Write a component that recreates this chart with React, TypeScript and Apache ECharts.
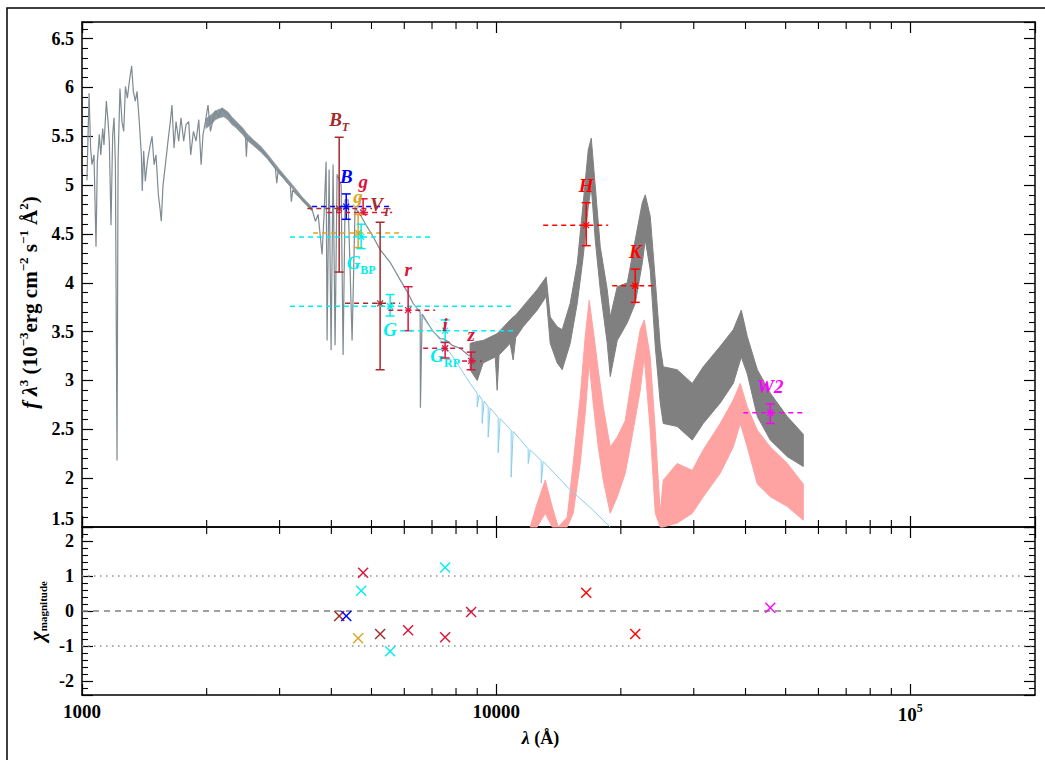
import React, { useEffect, useRef } from 'react';
import * as echarts from 'echarts';

const SERIF = '"Liberation Serif", "Times New Roman", serif';

// Total model spectrum, UV/optical part (wavelength Å, f·λ^3)
const uvSpectrum: [number, number][] = [
  [1028, 5.05], [1040, 5.94], [1049, 5.38], [1057, 5.21], [1069, 5.31], [1081, 4.37], [1089, 5.24],
  [1101, 5.52], [1110, 5.31], [1122, 5.58], [1130, 5.41], [1145, 5.86], [1156, 5.65], [1164, 5.45],
  [1175, 4.59], [1186, 5.52], [1195, 5.69], [1204, 5.21], [1215, 2.18], [1222, 5.24], [1235, 5.99],
  [1249, 5.65], [1261, 5.55], [1273, 6.01], [1287, 5.89], [1301, 6.06], [1318, 6.22], [1330, 5.96],
  [1345, 5.86], [1358, 5.96], [1375, 5.65], [1391, 5.31], [1398, 4.94], [1409, 5.35], [1422, 5.04],
  [1438, 5.24], [1457, 5.38], [1476, 5.50], [1493, 5.21], [1509, 5.31], [1529, 4.90], [1543, 4.76],
  [1554, 4.63], [1569, 5.00], [1590, 5.21], [1613, 5.45], [1634, 5.65], [1649, 5.82], [1668, 5.38],
  [1687, 5.65], [1712, 5.45], [1734, 5.69], [1760, 5.45], [1783, 5.62], [1810, 5.65], [1830, 5.31],
  [1858, 5.55], [1885, 5.45], [1914, 5.67], [1939, 5.21], [1960, 5.52], [1986, 5.65], [2015, 5.82],
  [2042, 5.55], [2068, 5.65], [2099, 5.76], [2138, 5.70], [2178, 5.79], [2219, 5.74], [2261, 5.72],
  [2303, 5.65], [2346, 5.62], [2390, 5.60], [2435, 5.57], [2480, 5.52], [2494, 5.29], [2508, 5.48],
  [2550, 5.48], [2598, 5.43], [2646, 5.40], [2721, 5.35], [2798, 5.29], [2850, 5.24], [2931, 5.17],
  [2953, 5.02], [2975, 5.14], [3042, 5.11], [3110, 5.04], [3185, 4.99], [3203, 4.83], [3227, 4.95],
  [3305, 4.90], [3400, 4.85], [3495, 4.80], [3594, 4.75], [3661, 4.63], [3716, 4.70], [3799, 4.29],
  [3841, 4.70], [3885, 5.24], [3906, 3.41], [3950, 5.16], [3994, 3.31], [4039, 5.21], [4084, 3.36],
  [4130, 5.11], [4223, 5.00], [4270, 3.26], [4318, 4.85], [4390, 4.85], [4489, 3.41], [4564, 4.77],
  [4694, 4.70], [4853, 4.59], [5018, 4.49], [5246, 4.34], [5546, 4.21], [5865, 4.03], [6095, 3.91],
  [6301, 3.79], [6553, 3.70], [6563, 2.72], [6626, 3.68], [7043, 3.50], [7323, 3.43], [7530, 3.42],
  [7830, 3.36], [8185, 3.33], [8558, 3.26], [8651, 3.25],
];

// Noise thickness of the UV continuum: [wavelength, upper, lower]
const uvNoise: [number, number, number][] = [
  [1990, 5.68, 5.58], [2050, 5.72, 5.62], [2100, 5.76, 5.67], [2150, 5.78, 5.69], [2200, 5.78, 5.70],
  [2250, 5.75, 5.67], [2300, 5.70, 5.62], [2350, 5.66, 5.59], [2400, 5.62, 5.55], [2450, 5.58, 5.51],
  [2500, 5.53, 5.46], [2600, 5.46, 5.40], [2700, 5.40, 5.34], [2800, 5.32, 5.27], [2900, 5.24, 5.19],
  [3000, 5.16, 5.11], [3200, 5.02, 4.98], [3400, 4.88, 4.84], [3600, 4.77, 4.73],
];

// Total model spectrum, noisy IR part: [wavelength, upper envelope, lower envelope]
const irSpectrum: [number, number, number][] = [
  [8651, 3.38, 3.11], [9000, 3.40, 3.00], [9303, 3.41, 3.18], [9950, 3.47, 3.24], [10056, 3.48, 2.90],
  [10160, 3.50, 3.26], [10809, 3.62, 3.38], [10991, 3.65, 3.21], [11150, 3.67, 3.44], [11620, 3.76, 3.55],
  [12561, 3.93, 3.72], [13209, 4.06, 3.86], [13505, 3.65, 3.38], [14041, 3.55, 3.18], [14437, 3.52, 3.11],
  [15093, 3.79, 3.38], [15697, 4.20, 3.79], [16226, 4.82, 4.27], [16685, 5.36, 4.78], [16967, 5.48, 4.99],
  [17347, 4.99, 4.44], [17836, 4.37, 3.93], [18544, 3.93, 3.38], [18858, 3.65, 3.04], [19606, 3.96, 3.41],
  [20726, 4.00, 3.59], [21667, 4.44, 3.79], [22531, 4.82, 4.20], [22909, 4.90, 4.44], [23554, 4.68, 4.13],
  [24219, 4.03, 3.35], [24898, 3.35, 2.77], [25319, 3.14, 2.56], [27358, 3.11, 2.53], [29748, 2.97, 2.39],
  [31623, 3.14, 2.56], [34754, 3.35, 2.77], [37370, 3.52, 2.97], [39069, 3.72, 3.24], [40394, 3.45, 3.07],
  [42718, 3.11, 2.63], [45907, 2.87, 2.39], [50465, 2.63, 2.22], [55147, 2.45, 2.12],
];

// Companion model (pink): [wavelength, upper, lower] (lower clipped at axis)
const companionSpectrum: [number, number, number][] = [
  [12083, 1.50, 1.50], [12561, 1.74, 1.50], [13136, 1.98, 1.64], [13652, 1.71, 1.50], [14122, 1.50, 1.50],
  [14844, 1.60, 1.50], [15346, 2.15, 1.64], [15957, 2.83, 2.15], [16406, 3.45, 2.66], [16773, 3.82, 3.18],
  [17150, 3.52, 2.77], [17639, 3.11, 2.32], [18138, 2.73, 1.98], [18858, 2.32, 1.64], [19606, 2.42, 1.81],
  [20497, 2.59, 2.05], [21424, 3.11, 2.49], [22277, 3.52, 2.90], [22782, 3.62, 3.24], [23554, 3.24, 2.49],
  [24219, 2.49, 1.64], [24898, 1.64, 1.50], [25319, 1.98, 1.50], [27358, 2.15, 1.54], [29748, 2.08, 1.64],
  [31623, 2.29, 1.81], [34754, 2.56, 2.05], [37370, 2.80, 2.32], [38855, 2.97, 2.56], [40394, 2.73, 2.32],
  [42718, 2.49, 1.94], [45907, 2.32, 1.81], [50465, 2.15, 1.71], [55147, 1.94, 1.57],
];

// Stellar photosphere (sky blue) where it departs from the total model
const photosphere: [number, number][] = [
  [6301, 3.79], [7043, 3.50], [7447, 3.38], [7961, 3.21], [8651, 2.97], [8998, 2.87], [8998, 2.73],
  [9098, 2.85], [9252, 2.80], [9252, 2.56], [9354, 2.79], [9565, 2.73], [9565, 2.42], [9671, 2.72],
  [10112, 2.62], [10112, 2.26], [10225, 2.61], [10870, 2.49], [10870, 2.01], [10991, 2.48], [11949, 2.30],
  [11949, 2.15], [12083, 2.29], [12846, 2.18], [12846, 1.95], [12989, 2.17], [15093, 1.88], [16866, 1.70],
  [18858, 1.50],
];

// Photometry
const bandLabel = ['{m|B}{s|T}', '{m|B}', '{m|g}', '{m|g}', '{m|G}{u|BP}', '{m|V}{s|T}', '{m|G}', '{m|r}',
  '{m|G}{u|RP}', '{m|i}', '{m|z}', '{m|H}', '{m|K}', '{m|W2}'];
const bandLambda = [4178, 4345, 4773, 4642, 4721, 5246, 5546, 6130, 7530, 7530, 8700, 16496, 21667, 45907];
const bandFlux = [4.76, 4.78, 4.72, 4.51, 4.47, 3.79, 3.76, 3.72, 3.51, 3.33, 3.20, 4.59, 3.97, 2.67];
const bandErrHigh = [5.49, 4.91, 4.86, 4.70, 4.60, 4.62, 3.88, 3.96, 3.62, 3.39, 3.29, 4.82, 4.14, 2.76];
const bandErrLow = [4.11, 4.65, 4.70, 4.36, 4.35, 3.11, 3.66, 3.51, 3.39, 3.23, 3.11, 4.38, 3.80, 2.56];
const bandWidthLow = [3500, 3594, 3907, 3614, 3179, 4318, 3179, 5491, 5865, 6664, 8270, 12989, 19067, 39505];
const bandWidthHigh = [5018, 5546, 5610, 5865, 6926, 5865, 11114, 7122, 11114, 8324, 9229, 18645, 23947, 55147];
const bandResidual = [-0.14, -0.14, 1.09, -0.78, 0.58, -0.66, -1.15, -0.55, 1.24, -0.75, -0.03, 0.52, -0.66, 0.09];
const bandColor = ['#a52a2a', '#0000ff', '#dc143c', '#daa520', '#00eeee', '#a52a2a', '#00eeee', '#dc143c',
  '#00eeee', '#dc143c', '#dc143c', '#ff0000', '#ff0000', '#ff00ff'];
const bandLabelSide = ['above', 'above', 'above', 'above', 'below', 'above', 'below', 'above', 'below',
  'above', 'above', 'above', 'above', 'above'];

const xMinorTicks = [2000, 3000, 4000, 5000, 6000, 7000, 8000, 9000, 20000, 30000, 40000, 50000, 60000, 70000, 80000, 90000];
const residualLevels = [0, 1, -1];

const BLACK = '#000';
const UV_GREY = '#7f8a91';

function bandRenderer(rows: [number, number, number][], color: string, edge: number) {
  return (params: any, api: any) => {
    if (params.dataIndex !== 0) return null;
    const pts: number[][] = [];
    for (let i = 0; i < rows.length; i++) pts.push(api.coord([rows[i][0], rows[i][1]]));
    for (let i = rows.length - 1; i >= 0; i--) pts.push(api.coord([rows[i][0], rows[i][2]]));
    return { type: 'polygon', shape: { points: pts }, style: { fill: color, stroke: color, lineWidth: edge } };
  };
}

function labelRich(c: string) {
  const base = { fill: c, fontFamily: SERIF, fontWeight: 'bold' };
  return {
    m: { ...base, fontStyle: 'italic', fontSize: 19, lineHeight: 22, verticalAlign: 'top' },
    s: { ...base, fontStyle: 'italic', fontSize: 12, lineHeight: 12, padding: [11, 0, 0, 0], verticalAlign: 'top' },
    u: { ...base, fontStyle: 'normal', fontSize: 12, lineHeight: 12, padding: [11, 0, 0, 0], verticalAlign: 'top' },
  };
}

function photometryRender(params: any, api: any) {
  const i = params.dataIndex;
  const c = bandColor[i];
  const p = api.coord([bandLambda[i], bandFlux[i]]);
  const top = api.coord([bandLambda[i], bandErrHigh[i]]);
  const bot = api.coord([bandLambda[i], bandErrLow[i]]);
  const wl = api.coord([bandWidthLow[i], bandFlux[i]]);
  const wh = api.coord([bandWidthHigh[i], bandFlux[i]]);
  const st = { stroke: c, lineWidth: 1.5 };
  const cap = 4.5;
  const a = 3;
  const above = bandLabelSide[i] === 'above';
  return {
    type: 'group',
    children: [
      { type: 'line', shape: { x1: wl[0], y1: p[1], x2: wh[0], y2: p[1] }, style: { stroke: c, lineWidth: 1.5, lineDash: [5, 4] } },
      { type: 'line', shape: { x1: p[0], y1: top[1], x2: p[0], y2: bot[1] }, style: st },
      { type: 'line', shape: { x1: p[0] - cap, y1: top[1], x2: p[0] + cap, y2: top[1] }, style: st },
      { type: 'line', shape: { x1: p[0] - cap, y1: bot[1], x2: p[0] + cap, y2: bot[1] }, style: st },
      { type: 'line', shape: { x1: p[0] - a, y1: p[1], x2: p[0] + a, y2: p[1] }, style: { stroke: c, lineWidth: 1.2 } },
      { type: 'line', shape: { x1: p[0] - a, y1: p[1] - a, x2: p[0] + a, y2: p[1] + a }, style: { stroke: c, lineWidth: 1.2 } },
      { type: 'line', shape: { x1: p[0] - a, y1: p[1] + a, x2: p[0] + a, y2: p[1] - a }, style: { stroke: c, lineWidth: 1.2 } },
      {
        type: 'text',
        x: p[0],
        y: above ? top[1] - 5 : bot[1] + 4,
        style: {
          text: bandLabel[i],
          rich: labelRich(c),
          fill: c,
          fontFamily: SERIF,
          fontWeight: 'bold',
          fontStyle: 'italic',
          fontSize: 19,
          align: 'center',
          verticalAlign: above ? 'bottom' : 'top',
        },
      },
    ],
  };
}

function residualRender(params: any, api: any) {
  const p = api.coord([api.value(0), api.value(1)]);
  const c = bandColor[params.dataIndex];
  const r = 5;
  return {
    type: 'group',
    children: [
      { type: 'line', shape: { x1: p[0] - r, y1: p[1] - r, x2: p[0] + r, y2: p[1] + r }, style: { stroke: c, lineWidth: 1.4 } },
      { type: 'line', shape: { x1: p[0] - r, y1: p[1] + r, x2: p[0] + r, y2: p[1] - r }, style: { stroke: c, lineWidth: 1.4 } },
    ],
  };
}

function minorTickRender(params: any, api: any) {
  const cs = params.coordSys;
  const x = api.coord([api.value(0), api.value(1)])[0];
  const L = 7;
  const st = { stroke: BLACK, lineWidth: 1.1 };
  return {
    type: 'group',
    children: [
      { type: 'line', shape: { x1: x, y1: cs.y, x2: x, y2: cs.y + L }, style: st },
      { type: 'line', shape: { x1: x, y1: cs.y + cs.height, x2: x, y2: cs.y + cs.height - L }, style: st },
    ],
  };
}

const tickFont = { fontFamily: SERIF, fontWeight: 'bold', color: BLACK };

function buildOption() {
  const axisLine = { show: true, onZero: false, lineStyle: { color: BLACK, width: 1.5 } };
  const axisTick = { show: true, inside: true, length: 11, lineStyle: { color: BLACK, width: 1.2 } };
  const xBase: any = {
    type: 'log', logBase: 10, min: 1000, max: 200000,
    axisLine, axisTick, axisLabel: { show: false }, splitLine: { show: false },
  };
  const yMinor = { show: true, splitNumber: 5, length: 6, lineStyle: { color: BLACK, width: 1.1 } };
  const topFormatter = (v: number) => {
    if (Math.abs(v * 2 - Math.round(v * 2)) > 1e-6) return '';
    if (Math.abs(v - 1.5) < 1e-6) return '{lo|1.5}';
    return String(Math.round(v * 2) / 2);
  };
  const botFormatter = (v: number) => {
    if (Math.abs(v - Math.round(v)) > 1e-6) return '';
    return String(Math.round(v));
  };
  const xFormatter = (v: number) => {
    const e = Math.round(Math.log10(v));
    if (Math.abs(v - Math.pow(10, e)) > 1e-6 * v) return '';
    if (e === 3) return '1000';
    if (e === 4) return '10000';
    return '{b|10}{p|' + e + '}';
  };

  return {
    animation: false,
    backgroundColor: '#fff',
    graphic: [
      { type: 'rect', shape: { x: 7, y: 8, width: 1200, height: 1000 }, style: { fill: 'none', stroke: BLACK, lineWidth: 1.5 }, silent: true },
    ],
    grid: [
      { left: 82, top: 22, width: 953, height: 505 },
      { left: 82, top: 527, width: 953, height: 168 },
    ],
    xAxis: [
      { ...xBase, gridIndex: 0, position: 'bottom' },
      { ...xBase, gridIndex: 0, position: 'top' },
      {
        ...xBase, gridIndex: 1, position: 'bottom',
        axisLabel: {
          show: true, margin: 7, fontSize: 19, ...tickFont, formatter: xFormatter, showMaxLabel: false,
          rich: {
            b: { ...tickFont, fontSize: 19, lineHeight: 22, verticalAlign: 'bottom' },
            p: { ...tickFont, fontSize: 12, lineHeight: 12, verticalAlign: 'top' },
          },
        },
        name: '{i|λ}{n| (Å)}',
        nameLocation: 'middle',
        nameGap: 34,
        nameTextStyle: {
          padding: [0, 36, 0, 0],
          rich: {
            i: { ...tickFont, fontStyle: 'italic', fontSize: 18 },
            n: { ...tickFont, fontSize: 18 },
          },
        },
      },
      { ...xBase, gridIndex: 1, position: 'top' },
    ],
    yAxis: [
      {
        type: 'value', gridIndex: 0, position: 'left', min: 1.5, max: 6.67, interval: 0.5,
        axisLine, axisTick, minorTick: yMinor, splitLine: { show: false },
        axisLabel: {
          show: true, margin: 8, fontSize: 18, ...tickFont, formatter: topFormatter, showMaxLabel: false,
          rich: { lo: { ...tickFont, fontSize: 18, padding: [0, 0, 16, 0] } },
        },
        name: '{i|f}{i| λ}{p|3}{n| (10}{p|−3}{n|erg cm}{p|−2}{n| s}{p|−1}{n| Å}{p|2}{n|)}',
        nameLocation: 'middle',
        nameRotate: 90,
        nameGap: 31,
        nameTextStyle: {
          padding: [0, 56, 0, 0],
          rich: {
            i: { ...tickFont, fontStyle: 'italic', fontSize: 22, lineHeight: 26 },
            n: { ...tickFont, fontSize: 21, lineHeight: 26 },
            p: { ...tickFont, fontSize: 13, lineHeight: 14, verticalAlign: 'top' },
          },
        },
      },
      {
        type: 'value', gridIndex: 0, position: 'right', min: 1.5, max: 6.67, interval: 0.5,
        axisLine, axisTick, minorTick: yMinor, splitLine: { show: false }, axisLabel: { show: false },
      },
      {
        type: 'value', gridIndex: 1, position: 'left', min: -2.4, max: 2.4, minInterval: 1, maxInterval: 1,
        axisLine, axisTick, minorTick: yMinor, splitLine: { show: false },
        axisLabel: {
          show: true, margin: 8, fontSize: 18, ...tickFont, formatter: botFormatter,
          showMinLabel: false, showMaxLabel: false,
        },
        name: '{c|χ}{s|magnitude}',
        nameLocation: 'middle',
        nameRotate: 90,
        nameGap: 32,
        nameTextStyle: {
          rich: {
            c: { ...tickFont, fontStyle: 'italic', fontSize: 21, lineHeight: 24 },
            s: { ...tickFont, fontSize: 11, lineHeight: 12, padding: [12, 0, 0, 0], verticalAlign: 'top' },
          },
        },
      },
      {
        type: 'value', gridIndex: 1, position: 'right', min: -2.4, max: 2.4, minInterval: 1, maxInterval: 1,
        axisLine, axisTick, minorTick: yMinor, splitLine: { show: false }, axisLabel: { show: false },
      },
    ],
    series: [
      {
        type: 'custom', name: 'model IR', xAxisIndex: 0, yAxisIndex: 0, z: 1, silent: true,
        data: irSpectrum.map((r) => [r[0], r[1]]),
        renderItem: bandRenderer(irSpectrum, '#808080', 1),
      },
      {
        type: 'custom', name: 'companion', xAxisIndex: 0, yAxisIndex: 0, z: 1, silent: true,
        data: companionSpectrum.map((r) => [r[0], r[1]]),
        renderItem: bandRenderer(companionSpectrum, '#ffa2a2', 1),
      },
      {
        type: 'custom', name: 'UV noise', xAxisIndex: 0, yAxisIndex: 0, z: 1, silent: true,
        data: uvNoise.map((r) => [r[0], r[1]]),
        renderItem: bandRenderer(uvNoise, '#8a959c', 0.6),
      },
      {
        type: 'line', name: 'model UV', xAxisIndex: 0, yAxisIndex: 0, z: 2, silent: true,
        data: uvSpectrum, showSymbol: false, symbol: 'none',
        lineStyle: { color: UV_GREY, width: 1.2 },
      },
      {
        type: 'line', name: 'photosphere', xAxisIndex: 0, yAxisIndex: 0, z: 2, silent: true,
        data: photosphere, showSymbol: false, symbol: 'none',
        lineStyle: { color: '#87ceeb', width: 1 },
      },
      {
        type: 'custom', name: 'photometry', xAxisIndex: 0, yAxisIndex: 0, z: 5, silent: true,
        data: bandLambda.map((l, i) => [l, bandFlux[i]]),
        renderItem: photometryRender,
      },
      {
        type: 'custom', name: 'minor top', xAxisIndex: 0, yAxisIndex: 0, z: 6, silent: true,
        data: xMinorTicks.map((v) => [v, 3]),
        renderItem: minorTickRender,
      },
      ...residualLevels.map((lvl) => ({
        type: 'line', xAxisIndex: 2, yAxisIndex: 2, z: 2, silent: true,
        data: [[1000, lvl], [200000, lvl]], showSymbol: false, symbol: 'none',
        lineStyle: lvl === 0
          ? { color: '#808080', width: 1.3, type: [6, 5] }
          : { color: '#909090', width: 1.6, type: [1.5, 4.5] },
      })),
      {
        type: 'custom', name: 'residuals', xAxisIndex: 2, yAxisIndex: 2, z: 5, silent: true,
        data: bandLambda.map((l, i) => [l, bandResidual[i]]),
        renderItem: residualRender,
      },
      {
        type: 'custom', name: 'minor bottom', xAxisIndex: 2, yAxisIndex: 2, z: 6, silent: true,
        data: xMinorTicks.map((v) => [v, 0]),
        renderItem: minorTickRender,
      },
    ],
  };
}

export default function App() {
  const ref = useRef<HTMLDivElement>(null);
  useEffect(() => {
    const chart = echarts.init(ref.current as HTMLDivElement, null, { renderer: 'svg' });
    chart.setOption(buildOption() as any);
    return () => chart.dispose();
  }, []);
  return (
    <div
      ref={ref}
      style={{ position: 'fixed', left: 0, top: 0, width: 1045, height: 760, background: '#fff' }}
    />
  );
}
